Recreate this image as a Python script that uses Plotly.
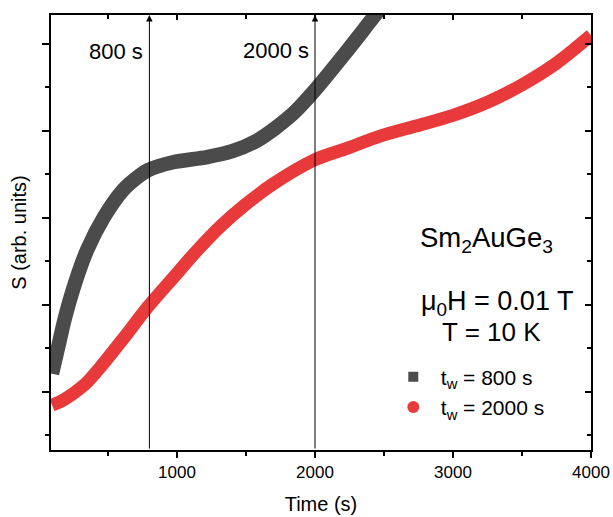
import plotly.graph_objects as go

# Data (arbitrary units)
t_800 = [94, 138, 188, 261, 348, 471, 609, 732, 790, 971, 1217, 1406, 1580, 1710, 1855, 2000, 2217, 2420, 2580]
s_800 = [0.21, 0.51, 0.85, 1.25, 1.63, 2.01, 2.32, 2.49, 2.55, 2.64, 2.70, 2.77, 2.89, 3.03, 3.22, 3.47, 3.89, 4.30, 4.62]

t_2000 = [94, 167, 246, 348, 442, 609, 790, 971, 1130, 1312, 1493, 1696, 2000, 2232, 2471, 2739, 3000, 3250, 3500, 3750, 4000]
s_2000 = [-0.15, -0.10, -0.02, 0.11, 0.28, 0.61, 0.98, 1.31, 1.60, 1.90, 2.15, 2.39, 2.67, 2.80, 2.94, 3.06, 3.18, 3.33, 3.53, 3.78, 4.10]

x_ticks = [1000, 2000, 3000, 4000]
x_tick_labels = ["1000", "2000", "3000", "4000"]
marker_times = [800, 2000]
marker_labels = ["800 s", "2000 s"]

X_RANGE = [87, 4000]
Y_RANGE = [-0.667, 4.333]

GRAY = "#4b4b4b"
RED = "#e8393b"
FONT = "Liberation Sans, Arial, sans-serif"

fig = go.Figure()

fig.add_trace(go.Scatter(x=t_800, y=s_800, mode="lines",
                         line=dict(color=GRAY, width=14.5, shape="spline", smoothing=0.8),
                         showlegend=False, hoverinfo="skip"))
fig.add_trace(go.Scatter(x=t_2000, y=s_2000, mode="lines",
                         line=dict(color=RED, width=13, shape="spline", smoothing=0.8),
                         showlegend=False, hoverinfo="skip"))

# legend entries
fig.add_trace(go.Scatter(x=[None], y=[None], mode="markers",
                         marker=dict(symbol="square", color=GRAY, size=10),
                         name="t<sub>w</sub> = 800 s"))
fig.add_trace(go.Scatter(x=[None], y=[None], mode="markers",
                         marker=dict(symbol="circle", color=RED, size=12),
                         name="t<sub>w</sub> = 2000 s"))

# vertical arrows with labels
label_y = [3.91, 3.93]
for t, lab, ly in zip(marker_times, marker_labels, label_y):
    fig.add_annotation(x=t, y=Y_RANGE[1], ax=t, ay=Y_RANGE[0], xref="x", yref="y",
                       axref="x", ayref="y", showarrow=True, arrowhead=2,
                       arrowsize=1.3, arrowwidth=1, arrowcolor="black", standoff=0, text="")
    fig.add_annotation(x=t, y=ly, xref="x", yref="y", text=lab, showarrow=False,
                       xanchor="right", yanchor="middle", xshift=-4,
                       font=dict(size=22, color="black", family=FONT))

fig.add_annotation(x=0.807, y=0.485, xref="paper", yref="paper", xanchor="center", yanchor="middle",
                   text="Sm<sub>2</sub>AuGe<sub>3</sub>", showarrow=False,
                   font=dict(size=27.5, color="black", family=FONT))
fig.add_annotation(x=0.826, y=0.338, xref="paper", yref="paper", xanchor="center", yanchor="middle",
                   text="μ<sub>0</sub>H = 0.01 T", showarrow=False,
                   font=dict(size=27, color="black", family=FONT))
fig.add_annotation(x=0.815, y=0.271, xref="paper", yref="paper", xanchor="center", yanchor="middle",
                   text="T = 10 K", showarrow=False,
                   font=dict(size=26, color="black", family=FONT))

axis_common = dict(showline=True, linecolor="black", linewidth=2, showgrid=False,
                   zeroline=False, mirror=True, automargin=False)

fig.update_layout(
    width=613, height=517,
    margin=dict(l=51, r=22, t=15, b=67),
    paper_bgcolor="white", plot_bgcolor="white",
    font=dict(family=FONT, color="black"),
    xaxis=dict(range=X_RANGE, tickvals=x_ticks, ticktext=x_tick_labels,
               ticks="outside", ticklen=6, tickwidth=1.5, tickcolor="black",
               minor=dict(dtick=500, tick0=0, ticks="outside", ticklen=4, tickwidth=1.5, tickcolor="black"),
               tickfont=dict(size=17),
               title=dict(text="Time (s)", font=dict(size=20), standoff=16),
               **axis_common),
    yaxis=dict(range=Y_RANGE, dtick=1, tick0=0, showticklabels=False,
               ticks="outside", ticklen=7, tickwidth=1.5, tickcolor="black",
               minor=dict(dtick=0.5, tick0=0, ticks="outside", ticklen=4, tickwidth=1.5, tickcolor="black"),
               title=dict(text="S (arb. units)", font=dict(size=20), standoff=10),
               **axis_common),
    xaxis2=dict(range=X_RANGE, overlaying="x", side="top", anchor="y",
                tickvals=x_ticks, showticklabels=False, ticks="inside", ticklen=5,
                tickwidth=1.5, tickcolor="black",
                minor=dict(dtick=500, tick0=0, ticks="inside", ticklen=4, tickwidth=1.5, tickcolor="black"),
                showgrid=False, zeroline=False, showline=False, automargin=False),
    yaxis2=dict(range=Y_RANGE, overlaying="y", side="right", anchor="x",
                dtick=1, tick0=0, showticklabels=False, ticks="inside", ticklen=6,
                tickwidth=1.5, tickcolor="black",
                minor=dict(dtick=0.5, tick0=0, ticks="inside", ticklen=4, tickwidth=1.5, tickcolor="black"),
                showgrid=False, zeroline=False, showline=False, automargin=False),
    legend=dict(x=0.62, y=0.215, xanchor="left", yanchor="top", bgcolor="rgba(0,0,0,0)",
                font=dict(size=21, family=FONT), itemwidth=45),
)

# invisible trace to ensure the secondary axes are drawn
fig.add_trace(go.Scatter(x=[None], y=[None], xaxis="x2", yaxis="y2", showlegend=False, hoverinfo="skip"))

fig.write_html("out.html", config={"displayModeBar": False},
               post_script="document.body.style.margin='0';")
